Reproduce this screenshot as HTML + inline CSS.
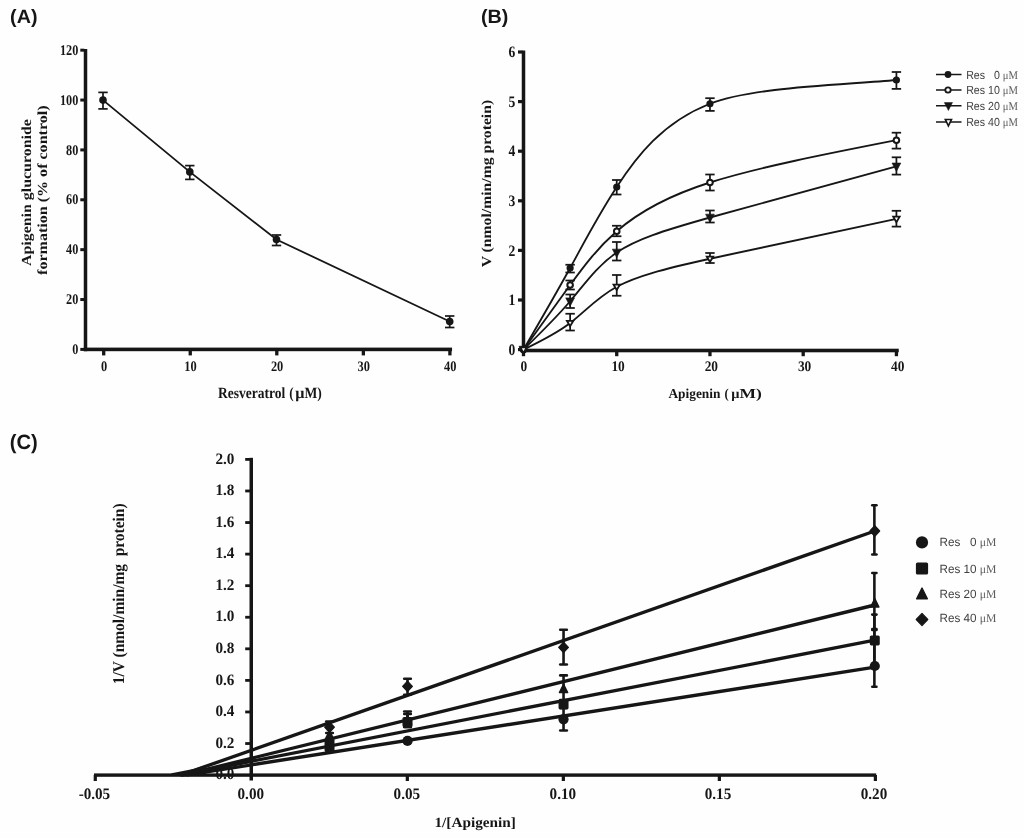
<!DOCTYPE html>
<html><head><meta charset="utf-8"><title>Figure</title>
<style>
html,body{margin:0;padding:0;background:#fefefe;}
body{width:1024px;height:838px;overflow:hidden;font-family:"Liberation Sans",sans-serif;}
svg{display:block;filter:blur(0.45px);}
</style></head><body>
<svg width="1024" height="838" viewBox="0 0 1024 838" text-rendering="geometricPrecision">
<rect width="1024" height="838" fill="#fefefe"/>
<text x="10.10" y="22.70" font-family="'Liberation Sans', sans-serif" font-size="19.4" font-weight="bold" text-anchor="start" fill="#161616" textLength="27.40" lengthAdjust="spacingAndGlyphs">(A)</text>
<text x="481.00" y="22.70" font-family="'Liberation Sans', sans-serif" font-size="19.4" font-weight="bold" text-anchor="start" fill="#161616" textLength="27.40" lengthAdjust="spacingAndGlyphs">(B)</text>
<text x="9.80" y="448.60" font-family="'Liberation Sans', sans-serif" font-size="20.7" font-weight="bold" text-anchor="start" fill="#161616" textLength="28.00" lengthAdjust="spacingAndGlyphs">(C)</text>
<rect x="83.75" y="49.00" width="3.50" height="302.20" fill="#161616"/>
<rect x="83.75" y="347.60" width="368.30" height="3.60" fill="#161616"/>
<rect x="80.30" y="347.90" width="4.00" height="3.00" fill="#161616"/>
<text x="78.30" y="354.10" font-family="'Liberation Serif', serif" font-size="14.8" font-weight="bold" text-anchor="end" fill="#161616" textLength="6.13" lengthAdjust="spacingAndGlyphs">0</text>
<rect x="80.30" y="298.03" width="4.00" height="3.00" fill="#161616"/>
<text x="78.30" y="304.23" font-family="'Liberation Serif', serif" font-size="14.8" font-weight="bold" text-anchor="end" fill="#161616" textLength="12.26" lengthAdjust="spacingAndGlyphs">20</text>
<rect x="80.30" y="248.16" width="4.00" height="3.00" fill="#161616"/>
<text x="78.30" y="254.36" font-family="'Liberation Serif', serif" font-size="14.8" font-weight="bold" text-anchor="end" fill="#161616" textLength="12.26" lengthAdjust="spacingAndGlyphs">40</text>
<rect x="80.30" y="198.29" width="4.00" height="3.00" fill="#161616"/>
<text x="78.30" y="204.49" font-family="'Liberation Serif', serif" font-size="14.8" font-weight="bold" text-anchor="end" fill="#161616" textLength="12.26" lengthAdjust="spacingAndGlyphs">60</text>
<rect x="80.30" y="148.42" width="4.00" height="3.00" fill="#161616"/>
<text x="78.30" y="154.62" font-family="'Liberation Serif', serif" font-size="14.8" font-weight="bold" text-anchor="end" fill="#161616" textLength="12.26" lengthAdjust="spacingAndGlyphs">80</text>
<rect x="80.30" y="98.55" width="4.00" height="3.00" fill="#161616"/>
<text x="78.30" y="104.75" font-family="'Liberation Serif', serif" font-size="14.8" font-weight="bold" text-anchor="end" fill="#161616" textLength="18.39" lengthAdjust="spacingAndGlyphs">100</text>
<rect x="80.30" y="48.68" width="4.00" height="3.00" fill="#161616"/>
<text x="78.30" y="54.88" font-family="'Liberation Serif', serif" font-size="14.8" font-weight="bold" text-anchor="end" fill="#161616" textLength="18.39" lengthAdjust="spacingAndGlyphs">120</text>
<rect x="102.05" y="350.00" width="3.30" height="5.40" fill="#161616"/>
<text x="104.00" y="370.80" font-family="'Liberation Serif', serif" font-size="14.5" font-weight="bold" text-anchor="middle" fill="#161616" textLength="6.20" lengthAdjust="spacingAndGlyphs">0</text>
<rect x="188.60" y="350.00" width="3.30" height="5.40" fill="#161616"/>
<text x="190.55" y="370.80" font-family="'Liberation Serif', serif" font-size="14.5" font-weight="bold" text-anchor="middle" fill="#161616" textLength="12.40" lengthAdjust="spacingAndGlyphs">10</text>
<rect x="275.15" y="350.00" width="3.30" height="5.40" fill="#161616"/>
<text x="277.10" y="370.80" font-family="'Liberation Serif', serif" font-size="14.5" font-weight="bold" text-anchor="middle" fill="#161616" textLength="12.40" lengthAdjust="spacingAndGlyphs">20</text>
<rect x="361.70" y="350.00" width="3.30" height="5.40" fill="#161616"/>
<text x="363.65" y="370.80" font-family="'Liberation Serif', serif" font-size="14.5" font-weight="bold" text-anchor="middle" fill="#161616" textLength="12.40" lengthAdjust="spacingAndGlyphs">30</text>
<rect x="448.25" y="350.00" width="3.30" height="5.40" fill="#161616"/>
<text x="450.20" y="370.80" font-family="'Liberation Serif', serif" font-size="14.5" font-weight="bold" text-anchor="middle" fill="#161616" textLength="12.40" lengthAdjust="spacingAndGlyphs">40</text>
<text x="218.10" y="398.00" font-family="'Liberation Serif', serif" font-size="15.6" font-weight="bold" text-anchor="start" fill="#161616" textLength="67.20" lengthAdjust="spacingAndGlyphs">Resveratrol</text>
<text x="289.30" y="398.00" font-family="'Liberation Serif', serif" font-size="15.6" font-weight="bold" text-anchor="start" fill="#161616" textLength="4.40" lengthAdjust="spacingAndGlyphs">(</text>
<text x="295.20" y="398.00" font-family="'Liberation Serif', serif" font-size="15.6" font-weight="bold" text-anchor="start" fill="#161616" textLength="9.20" lengthAdjust="spacingAndGlyphs">μ</text>
<text x="304.50" y="398.00" font-family="'Liberation Serif', serif" font-size="15.6" font-weight="bold" text-anchor="start" fill="#161616" textLength="17.40" lengthAdjust="spacingAndGlyphs">M)</text>
<text x="30.60" y="192.60" font-family="'Liberation Serif', serif" font-size="13.8" font-weight="bold" text-anchor="middle" fill="#161616" textLength="146.80" lengthAdjust="spacingAndGlyphs" transform="rotate(-90 30.60 192.60)">Apigenin glucuronide</text>
<text x="47.30" y="190.20" font-family="'Liberation Serif', serif" font-size="13.8" font-weight="bold" text-anchor="middle" fill="#161616" textLength="169.50" lengthAdjust="spacingAndGlyphs" transform="rotate(-90 47.30 190.20)">formation (% of control)</text>
<polyline points="103.00,100.10 189.80,171.90 276.50,239.50 449.70,321.50" fill="none" stroke="#161616" stroke-width="1.8"/>
<line x1="103.00" y1="92.40" x2="103.00" y2="108.90" stroke="#161616" stroke-width="1.7" stroke-linecap="butt"/>
<line x1="98.30" y1="92.40" x2="107.70" y2="92.40" stroke="#161616" stroke-width="1.7" stroke-linecap="butt"/>
<line x1="98.30" y1="108.90" x2="107.70" y2="108.90" stroke="#161616" stroke-width="1.7" stroke-linecap="butt"/>
<circle cx="103.00" cy="100.10" r="3.8" fill="#161616"/>
<line x1="189.80" y1="165.60" x2="189.80" y2="179.40" stroke="#161616" stroke-width="1.7" stroke-linecap="butt"/>
<line x1="185.10" y1="165.60" x2="194.50" y2="165.60" stroke="#161616" stroke-width="1.7" stroke-linecap="butt"/>
<line x1="185.10" y1="179.40" x2="194.50" y2="179.40" stroke="#161616" stroke-width="1.7" stroke-linecap="butt"/>
<circle cx="189.80" cy="171.90" r="3.8" fill="#161616"/>
<line x1="276.50" y1="235.00" x2="276.50" y2="245.50" stroke="#161616" stroke-width="1.7" stroke-linecap="butt"/>
<line x1="271.80" y1="235.00" x2="281.20" y2="235.00" stroke="#161616" stroke-width="1.7" stroke-linecap="butt"/>
<line x1="271.80" y1="245.50" x2="281.20" y2="245.50" stroke="#161616" stroke-width="1.7" stroke-linecap="butt"/>
<circle cx="276.50" cy="239.50" r="3.8" fill="#161616"/>
<line x1="449.70" y1="316.00" x2="449.70" y2="327.50" stroke="#161616" stroke-width="1.7" stroke-linecap="butt"/>
<line x1="445.00" y1="316.00" x2="454.40" y2="316.00" stroke="#161616" stroke-width="1.7" stroke-linecap="butt"/>
<line x1="445.00" y1="327.50" x2="454.40" y2="327.50" stroke="#161616" stroke-width="1.7" stroke-linecap="butt"/>
<circle cx="449.70" cy="321.50" r="3.8" fill="#161616"/>
<rect x="521.75" y="50.50" width="3.50" height="301.30" fill="#161616"/>
<rect x="521.75" y="348.70" width="377.00" height="3.60" fill="#161616"/>
<rect x="518.00" y="348.00" width="4.50" height="3.20" fill="#161616"/>
<text x="515.20" y="354.80" font-family="'Liberation Serif', serif" font-size="16.0" font-weight="bold" text-anchor="end" fill="#161616" textLength="6.80" lengthAdjust="spacingAndGlyphs">0</text>
<rect x="518.00" y="298.40" width="4.50" height="3.20" fill="#161616"/>
<text x="515.20" y="305.20" font-family="'Liberation Serif', serif" font-size="16.0" font-weight="bold" text-anchor="end" fill="#161616" textLength="6.80" lengthAdjust="spacingAndGlyphs">1</text>
<rect x="518.00" y="248.80" width="4.50" height="3.20" fill="#161616"/>
<text x="515.20" y="255.60" font-family="'Liberation Serif', serif" font-size="16.0" font-weight="bold" text-anchor="end" fill="#161616" textLength="6.80" lengthAdjust="spacingAndGlyphs">2</text>
<rect x="518.00" y="199.20" width="4.50" height="3.20" fill="#161616"/>
<text x="515.20" y="206.00" font-family="'Liberation Serif', serif" font-size="16.0" font-weight="bold" text-anchor="end" fill="#161616" textLength="6.80" lengthAdjust="spacingAndGlyphs">3</text>
<rect x="518.00" y="149.60" width="4.50" height="3.20" fill="#161616"/>
<text x="515.20" y="156.40" font-family="'Liberation Serif', serif" font-size="16.0" font-weight="bold" text-anchor="end" fill="#161616" textLength="6.80" lengthAdjust="spacingAndGlyphs">4</text>
<rect x="518.00" y="100.00" width="4.50" height="3.20" fill="#161616"/>
<text x="515.20" y="106.80" font-family="'Liberation Serif', serif" font-size="16.0" font-weight="bold" text-anchor="end" fill="#161616" textLength="6.80" lengthAdjust="spacingAndGlyphs">5</text>
<rect x="518.00" y="50.40" width="4.50" height="3.20" fill="#161616"/>
<text x="515.20" y="57.20" font-family="'Liberation Serif', serif" font-size="16.0" font-weight="bold" text-anchor="end" fill="#161616" textLength="6.80" lengthAdjust="spacingAndGlyphs">6</text>
<rect x="521.85" y="351.00" width="3.30" height="5.20" fill="#161616"/>
<text x="523.80" y="371.40" font-family="'Liberation Serif', serif" font-size="14.6" font-weight="bold" text-anchor="middle" fill="#161616" textLength="6.70" lengthAdjust="spacingAndGlyphs">0</text>
<rect x="615.08" y="351.00" width="3.30" height="5.20" fill="#161616"/>
<text x="618.13" y="371.40" font-family="'Liberation Serif', serif" font-size="14.6" font-weight="bold" text-anchor="middle" fill="#161616" textLength="13.40" lengthAdjust="spacingAndGlyphs">10</text>
<rect x="708.31" y="351.00" width="3.30" height="5.20" fill="#161616"/>
<text x="711.36" y="371.40" font-family="'Liberation Serif', serif" font-size="14.6" font-weight="bold" text-anchor="middle" fill="#161616" textLength="13.40" lengthAdjust="spacingAndGlyphs">20</text>
<rect x="801.54" y="351.00" width="3.30" height="5.20" fill="#161616"/>
<text x="804.59" y="371.40" font-family="'Liberation Serif', serif" font-size="14.6" font-weight="bold" text-anchor="middle" fill="#161616" textLength="13.40" lengthAdjust="spacingAndGlyphs">30</text>
<rect x="894.77" y="351.00" width="3.30" height="5.20" fill="#161616"/>
<text x="897.82" y="371.40" font-family="'Liberation Serif', serif" font-size="14.6" font-weight="bold" text-anchor="middle" fill="#161616" textLength="13.40" lengthAdjust="spacingAndGlyphs">40</text>
<text x="668.40" y="398.40" font-family="'Liberation Serif', serif" font-size="13.8" font-weight="bold" text-anchor="start" fill="#161616" textLength="52.00" lengthAdjust="spacingAndGlyphs">Apigenin</text>
<text x="724.60" y="398.40" font-family="'Liberation Serif', serif" font-size="13.8" font-weight="bold" text-anchor="start" fill="#161616" textLength="4.20" lengthAdjust="spacingAndGlyphs">(</text>
<text x="731.20" y="398.40" font-family="'Liberation Serif', serif" font-size="13.8" font-weight="bold" text-anchor="start" fill="#161616" textLength="8.20" lengthAdjust="spacingAndGlyphs">μ</text>
<text x="739.60" y="398.40" font-family="'Liberation Serif', serif" font-size="13.8" font-weight="bold" text-anchor="start" fill="#161616" textLength="22.30" lengthAdjust="spacingAndGlyphs">M)</text>
<text x="490.80" y="183.60" font-family="'Liberation Serif', serif" font-size="13.8" font-weight="bold" text-anchor="middle" fill="#161616" textLength="167.50" lengthAdjust="spacingAndGlyphs" transform="rotate(-90 490.80 183.60)">V (nmol/min/mg protein)</text>
<path d="M523.50,349.60 C539.59,321.94 555.69,294.28 570.12,268.00 C584.54,241.72 597.31,216.83 616.73,187.00 C636.15,157.17 662.24,122.41 709.96,103.75 C752.65,86.98 841.87,85.08 896.42,80.00" fill="none" stroke="#161616" stroke-width="1.85"/>
<path d="M523.50,349.60 C539.59,327.18 555.69,304.76 570.12,285.00 C584.54,265.24 597.31,248.15 616.73,231.25 C636.15,214.35 662.24,197.64 709.96,182.50 C757.68,167.36 827.05,153.78 896.42,140.20" fill="none" stroke="#161616" stroke-width="1.85"/>
<path d="M523.50,349.60 C539.59,333.94 555.69,318.28 570.12,301.25 C584.54,284.22 597.31,265.80 616.73,252.50 C636.15,239.20 662.24,231.00 709.96,217.50 C757.68,204.00 827.05,185.20 896.42,166.40" fill="none" stroke="#161616" stroke-width="1.85"/>
<path d="M523.50,349.60 C539.59,341.86 555.69,334.12 570.12,323.00 C584.54,311.88 597.31,297.37 616.73,286.75 C636.15,276.13 662.24,269.41 709.96,258.75 C757.68,248.09 827.05,233.50 896.42,218.90" fill="none" stroke="#161616" stroke-width="1.85"/>
<circle cx="523.50" cy="349.60" r="3.6" fill="#161616"/>
<line x1="570.12" y1="264.75" x2="570.12" y2="272.50" stroke="#161616" stroke-width="1.75" stroke-linecap="butt"/>
<line x1="565.41" y1="264.75" x2="574.82" y2="264.75" stroke="#161616" stroke-width="1.75" stroke-linecap="butt"/>
<line x1="565.41" y1="272.50" x2="574.82" y2="272.50" stroke="#161616" stroke-width="1.75" stroke-linecap="butt"/>
<circle cx="570.12" cy="268.00" r="3.6" fill="#161616"/>
<line x1="616.73" y1="180.00" x2="616.73" y2="194.50" stroke="#161616" stroke-width="1.75" stroke-linecap="butt"/>
<line x1="612.03" y1="180.00" x2="621.43" y2="180.00" stroke="#161616" stroke-width="1.75" stroke-linecap="butt"/>
<line x1="612.03" y1="194.50" x2="621.43" y2="194.50" stroke="#161616" stroke-width="1.75" stroke-linecap="butt"/>
<circle cx="616.73" cy="187.00" r="3.6" fill="#161616"/>
<line x1="709.96" y1="98.20" x2="709.96" y2="110.90" stroke="#161616" stroke-width="1.75" stroke-linecap="butt"/>
<line x1="705.26" y1="98.20" x2="714.66" y2="98.20" stroke="#161616" stroke-width="1.75" stroke-linecap="butt"/>
<line x1="705.26" y1="110.90" x2="714.66" y2="110.90" stroke="#161616" stroke-width="1.75" stroke-linecap="butt"/>
<circle cx="709.96" cy="103.75" r="3.6" fill="#161616"/>
<line x1="896.42" y1="72.00" x2="896.42" y2="88.90" stroke="#161616" stroke-width="1.75" stroke-linecap="butt"/>
<line x1="891.72" y1="72.00" x2="901.12" y2="72.00" stroke="#161616" stroke-width="1.75" stroke-linecap="butt"/>
<line x1="891.72" y1="88.90" x2="901.12" y2="88.90" stroke="#161616" stroke-width="1.75" stroke-linecap="butt"/>
<circle cx="896.42" cy="80.00" r="3.6" fill="#161616"/>
<circle cx="523.50" cy="349.60" r="2.8" fill="#fff" stroke="#161616" stroke-width="2.0"/>
<line x1="570.12" y1="280.50" x2="570.12" y2="289.50" stroke="#161616" stroke-width="1.75" stroke-linecap="butt"/>
<line x1="565.41" y1="280.50" x2="574.82" y2="280.50" stroke="#161616" stroke-width="1.75" stroke-linecap="butt"/>
<line x1="565.41" y1="289.50" x2="574.82" y2="289.50" stroke="#161616" stroke-width="1.75" stroke-linecap="butt"/>
<circle cx="570.12" cy="285.00" r="2.8" fill="#fff" stroke="#161616" stroke-width="2.0"/>
<line x1="616.73" y1="225.75" x2="616.73" y2="236.25" stroke="#161616" stroke-width="1.75" stroke-linecap="butt"/>
<line x1="612.03" y1="225.75" x2="621.43" y2="225.75" stroke="#161616" stroke-width="1.75" stroke-linecap="butt"/>
<line x1="612.03" y1="236.25" x2="621.43" y2="236.25" stroke="#161616" stroke-width="1.75" stroke-linecap="butt"/>
<circle cx="616.73" cy="231.25" r="2.8" fill="#fff" stroke="#161616" stroke-width="2.0"/>
<line x1="709.96" y1="174.50" x2="709.96" y2="190.50" stroke="#161616" stroke-width="1.75" stroke-linecap="butt"/>
<line x1="705.26" y1="174.50" x2="714.66" y2="174.50" stroke="#161616" stroke-width="1.75" stroke-linecap="butt"/>
<line x1="705.26" y1="190.50" x2="714.66" y2="190.50" stroke="#161616" stroke-width="1.75" stroke-linecap="butt"/>
<circle cx="709.96" cy="182.50" r="2.8" fill="#fff" stroke="#161616" stroke-width="2.0"/>
<line x1="896.42" y1="132.70" x2="896.42" y2="148.60" stroke="#161616" stroke-width="1.75" stroke-linecap="butt"/>
<line x1="891.72" y1="132.70" x2="901.12" y2="132.70" stroke="#161616" stroke-width="1.75" stroke-linecap="butt"/>
<line x1="891.72" y1="148.60" x2="901.12" y2="148.60" stroke="#161616" stroke-width="1.75" stroke-linecap="butt"/>
<circle cx="896.42" cy="140.20" r="2.8" fill="#fff" stroke="#161616" stroke-width="2.0"/>
<polygon points="519.10,346.24 527.90,346.24 523.50,354.64" fill="#161616" stroke="#161616" stroke-width="0.6" stroke-linejoin="miter"/>
<line x1="570.12" y1="294.50" x2="570.12" y2="308.00" stroke="#161616" stroke-width="1.75" stroke-linecap="butt"/>
<line x1="565.41" y1="294.50" x2="574.82" y2="294.50" stroke="#161616" stroke-width="1.75" stroke-linecap="butt"/>
<line x1="565.41" y1="308.00" x2="574.82" y2="308.00" stroke="#161616" stroke-width="1.75" stroke-linecap="butt"/>
<polygon points="565.72,297.89 574.51,297.89 570.12,306.29" fill="#161616" stroke="#161616" stroke-width="0.6" stroke-linejoin="miter"/>
<line x1="616.73" y1="242.00" x2="616.73" y2="260.50" stroke="#161616" stroke-width="1.75" stroke-linecap="butt"/>
<line x1="612.03" y1="242.00" x2="621.43" y2="242.00" stroke="#161616" stroke-width="1.75" stroke-linecap="butt"/>
<line x1="612.03" y1="260.50" x2="621.43" y2="260.50" stroke="#161616" stroke-width="1.75" stroke-linecap="butt"/>
<polygon points="612.33,249.14 621.13,249.14 616.73,257.54" fill="#161616" stroke="#161616" stroke-width="0.6" stroke-linejoin="miter"/>
<line x1="709.96" y1="210.50" x2="709.96" y2="222.50" stroke="#161616" stroke-width="1.75" stroke-linecap="butt"/>
<line x1="705.26" y1="210.50" x2="714.66" y2="210.50" stroke="#161616" stroke-width="1.75" stroke-linecap="butt"/>
<line x1="705.26" y1="222.50" x2="714.66" y2="222.50" stroke="#161616" stroke-width="1.75" stroke-linecap="butt"/>
<polygon points="705.56,214.14 714.36,214.14 709.96,222.54" fill="#161616" stroke="#161616" stroke-width="0.6" stroke-linejoin="miter"/>
<line x1="896.42" y1="157.30" x2="896.42" y2="174.60" stroke="#161616" stroke-width="1.75" stroke-linecap="butt"/>
<line x1="891.72" y1="157.30" x2="901.12" y2="157.30" stroke="#161616" stroke-width="1.75" stroke-linecap="butt"/>
<line x1="891.72" y1="174.60" x2="901.12" y2="174.60" stroke="#161616" stroke-width="1.75" stroke-linecap="butt"/>
<polygon points="892.02,163.04 900.82,163.04 896.42,171.44" fill="#161616" stroke="#161616" stroke-width="0.6" stroke-linejoin="miter"/>
<polygon points="520.30,347.42 526.70,347.42 523.50,352.86" fill="#fff" stroke="#161616" stroke-width="1.8" stroke-linejoin="miter"/>
<line x1="570.12" y1="313.75" x2="570.12" y2="330.50" stroke="#161616" stroke-width="1.75" stroke-linecap="butt"/>
<line x1="565.41" y1="313.75" x2="574.82" y2="313.75" stroke="#161616" stroke-width="1.75" stroke-linecap="butt"/>
<line x1="565.41" y1="330.50" x2="574.82" y2="330.50" stroke="#161616" stroke-width="1.75" stroke-linecap="butt"/>
<polygon points="566.91,320.82 573.32,320.82 570.12,326.26" fill="#fff" stroke="#161616" stroke-width="1.8" stroke-linejoin="miter"/>
<line x1="616.73" y1="275.00" x2="616.73" y2="295.75" stroke="#161616" stroke-width="1.75" stroke-linecap="butt"/>
<line x1="612.03" y1="275.00" x2="621.43" y2="275.00" stroke="#161616" stroke-width="1.75" stroke-linecap="butt"/>
<line x1="612.03" y1="295.75" x2="621.43" y2="295.75" stroke="#161616" stroke-width="1.75" stroke-linecap="butt"/>
<polygon points="613.53,284.57 619.93,284.57 616.73,290.01" fill="#fff" stroke="#161616" stroke-width="1.8" stroke-linejoin="miter"/>
<line x1="709.96" y1="253.00" x2="709.96" y2="263.00" stroke="#161616" stroke-width="1.75" stroke-linecap="butt"/>
<line x1="705.26" y1="253.00" x2="714.66" y2="253.00" stroke="#161616" stroke-width="1.75" stroke-linecap="butt"/>
<line x1="705.26" y1="263.00" x2="714.66" y2="263.00" stroke="#161616" stroke-width="1.75" stroke-linecap="butt"/>
<polygon points="706.76,256.57 713.16,256.57 709.96,262.01" fill="#fff" stroke="#161616" stroke-width="1.8" stroke-linejoin="miter"/>
<line x1="896.42" y1="210.80" x2="896.42" y2="226.60" stroke="#161616" stroke-width="1.75" stroke-linecap="butt"/>
<line x1="891.72" y1="210.80" x2="901.12" y2="210.80" stroke="#161616" stroke-width="1.75" stroke-linecap="butt"/>
<line x1="891.72" y1="226.60" x2="901.12" y2="226.60" stroke="#161616" stroke-width="1.75" stroke-linecap="butt"/>
<polygon points="893.22,216.72 899.62,216.72 896.42,222.16" fill="#fff" stroke="#161616" stroke-width="1.8" stroke-linejoin="miter"/>
<line x1="936.00" y1="74.50" x2="961.50" y2="74.50" stroke="#161616" stroke-width="1.5" stroke-linecap="butt"/>
<circle cx="948.00" cy="74.50" r="3.4" fill="#161616"/>
<text x="966.2" y="78.70" font-family="'Liberation Sans', sans-serif" font-size="11.7" fill="#404040" textLength="51.8" lengthAdjust="spacingAndGlyphs" xml:space="preserve">Res&#160;&#160;&#160;0 <tspan font-family="'Liberation Serif', serif" fill="#5c5c5c">μM</tspan></text>
<line x1="936.00" y1="90.00" x2="961.50" y2="90.00" stroke="#161616" stroke-width="1.5" stroke-linecap="butt"/>
<circle cx="948.00" cy="90.00" r="2.7" fill="#fff" stroke="#161616" stroke-width="1.8"/>
<text x="966.2" y="94.20" font-family="'Liberation Sans', sans-serif" font-size="11.7" fill="#404040" textLength="51.8" lengthAdjust="spacingAndGlyphs" xml:space="preserve">Res 10 <tspan font-family="'Liberation Serif', serif" fill="#5c5c5c">μM</tspan></text>
<line x1="936.00" y1="105.75" x2="961.50" y2="105.75" stroke="#161616" stroke-width="1.5" stroke-linecap="butt"/>
<polygon points="944.30,102.55 952.50,102.55 948.40,110.55" fill="#161616" stroke="#161616" stroke-width="0.5" stroke-linejoin="miter"/>
<text x="966.2" y="109.95" font-family="'Liberation Sans', sans-serif" font-size="11.7" fill="#404040" textLength="51.8" lengthAdjust="spacingAndGlyphs" xml:space="preserve">Res 20 <tspan font-family="'Liberation Serif', serif" fill="#5c5c5c">μM</tspan></text>
<line x1="936.00" y1="122.00" x2="961.50" y2="122.00" stroke="#161616" stroke-width="1.5" stroke-linecap="butt"/>
<polygon points="945.30,119.44 951.50,119.44 948.40,125.84" fill="#fff" stroke="#161616" stroke-width="1.6" stroke-linejoin="miter"/>
<text x="966.2" y="126.20" font-family="'Liberation Sans', sans-serif" font-size="11.7" fill="#404040" textLength="51.8" lengthAdjust="spacingAndGlyphs" xml:space="preserve">Res 40 <tspan font-family="'Liberation Serif', serif" fill="#5c5c5c">μM</tspan></text>
<text x="234.40" y="779.30" font-family="'Liberation Serif', serif" font-size="15.9" font-weight="bold" text-anchor="end" fill="#161616" textLength="19.00" lengthAdjust="spacingAndGlyphs">0.0</text>
<text x="234.40" y="747.73" font-family="'Liberation Serif', serif" font-size="15.9" font-weight="bold" text-anchor="end" fill="#161616" textLength="19.00" lengthAdjust="spacingAndGlyphs">0.2</text>
<text x="234.40" y="716.16" font-family="'Liberation Serif', serif" font-size="15.9" font-weight="bold" text-anchor="end" fill="#161616" textLength="19.00" lengthAdjust="spacingAndGlyphs">0.4</text>
<text x="234.40" y="684.59" font-family="'Liberation Serif', serif" font-size="15.9" font-weight="bold" text-anchor="end" fill="#161616" textLength="19.00" lengthAdjust="spacingAndGlyphs">0.6</text>
<text x="234.40" y="653.02" font-family="'Liberation Serif', serif" font-size="15.9" font-weight="bold" text-anchor="end" fill="#161616" textLength="19.00" lengthAdjust="spacingAndGlyphs">0.8</text>
<text x="234.40" y="621.45" font-family="'Liberation Serif', serif" font-size="15.9" font-weight="bold" text-anchor="end" fill="#161616" textLength="19.00" lengthAdjust="spacingAndGlyphs">1.0</text>
<text x="234.40" y="589.88" font-family="'Liberation Serif', serif" font-size="15.9" font-weight="bold" text-anchor="end" fill="#161616" textLength="19.00" lengthAdjust="spacingAndGlyphs">1.2</text>
<text x="234.40" y="558.31" font-family="'Liberation Serif', serif" font-size="15.9" font-weight="bold" text-anchor="end" fill="#161616" textLength="19.00" lengthAdjust="spacingAndGlyphs">1.4</text>
<text x="234.40" y="526.74" font-family="'Liberation Serif', serif" font-size="15.9" font-weight="bold" text-anchor="end" fill="#161616" textLength="19.00" lengthAdjust="spacingAndGlyphs">1.6</text>
<text x="234.40" y="495.17" font-family="'Liberation Serif', serif" font-size="15.9" font-weight="bold" text-anchor="end" fill="#161616" textLength="19.00" lengthAdjust="spacingAndGlyphs">1.8</text>
<text x="234.40" y="463.60" font-family="'Liberation Serif', serif" font-size="15.9" font-weight="bold" text-anchor="end" fill="#161616" textLength="19.00" lengthAdjust="spacingAndGlyphs">2.0</text>
<rect x="249.50" y="457.80" width="3.50" height="322.70" fill="#161616"/>
<rect x="94.00" y="773.40" width="782.20" height="3.40" fill="#161616"/>
<rect x="245.20" y="742.13" width="5.00" height="2.80" fill="#161616"/>
<rect x="245.20" y="710.56" width="5.00" height="2.80" fill="#161616"/>
<rect x="245.20" y="678.99" width="5.00" height="2.80" fill="#161616"/>
<rect x="245.20" y="647.42" width="5.00" height="2.80" fill="#161616"/>
<rect x="245.20" y="615.85" width="5.00" height="2.80" fill="#161616"/>
<rect x="245.20" y="584.28" width="5.00" height="2.80" fill="#161616"/>
<rect x="245.20" y="552.71" width="5.00" height="2.80" fill="#161616"/>
<rect x="245.20" y="521.14" width="5.00" height="2.80" fill="#161616"/>
<rect x="245.20" y="489.57" width="5.00" height="2.80" fill="#161616"/>
<rect x="245.20" y="458.00" width="5.00" height="2.80" fill="#161616"/>
<rect x="93.68" y="775.00" width="3.20" height="6.00" fill="#161616"/>
<rect x="405.72" y="775.00" width="3.20" height="6.00" fill="#161616"/>
<rect x="561.74" y="775.00" width="3.20" height="6.00" fill="#161616"/>
<rect x="717.76" y="775.00" width="3.20" height="6.00" fill="#161616"/>
<rect x="873.78" y="775.00" width="3.20" height="6.00" fill="#161616"/>
<text x="94.38" y="799.40" font-family="'Liberation Serif', serif" font-size="16.0" font-weight="bold" text-anchor="middle" fill="#161616" textLength="31.50" lengthAdjust="spacingAndGlyphs">-0.05</text>
<text x="250.80" y="799.40" font-family="'Liberation Serif', serif" font-size="16.0" font-weight="bold" text-anchor="middle" fill="#161616" textLength="26.50" lengthAdjust="spacingAndGlyphs">0.00</text>
<text x="406.82" y="799.40" font-family="'Liberation Serif', serif" font-size="16.0" font-weight="bold" text-anchor="middle" fill="#161616" textLength="26.50" lengthAdjust="spacingAndGlyphs">0.05</text>
<text x="562.84" y="799.40" font-family="'Liberation Serif', serif" font-size="16.0" font-weight="bold" text-anchor="middle" fill="#161616" textLength="26.50" lengthAdjust="spacingAndGlyphs">0.10</text>
<text x="717.96" y="799.40" font-family="'Liberation Serif', serif" font-size="16.0" font-weight="bold" text-anchor="middle" fill="#161616" textLength="26.50" lengthAdjust="spacingAndGlyphs">0.15</text>
<text x="873.98" y="799.40" font-family="'Liberation Serif', serif" font-size="16.0" font-weight="bold" text-anchor="middle" fill="#161616" textLength="26.50" lengthAdjust="spacingAndGlyphs">0.20</text>
<text x="475.20" y="827.40" font-family="'Liberation Serif', serif" font-size="14.2" font-weight="bold" text-anchor="middle" fill="#161616" textLength="81.50" lengthAdjust="spacingAndGlyphs">1/[Apigenin]</text>
<text x="124.00" y="593.80" font-family="'Liberation Serif', serif" font-size="16.4" font-weight="bold" text-anchor="middle" fill="#161616" textLength="180.80" lengthAdjust="spacingAndGlyphs" transform="rotate(-90 124.00 593.80)">1/V (nmol/min/mg&#160; protein)</text>
<line x1="180.79" y1="775.10" x2="874.80" y2="531.00" stroke="#161616" stroke-width="3.35" stroke-linecap="butt"/>
<line x1="182.97" y1="775.10" x2="874.80" y2="605.00" stroke="#161616" stroke-width="3.35" stroke-linecap="butt"/>
<line x1="180.25" y1="775.10" x2="874.80" y2="640.20" stroke="#161616" stroke-width="3.35" stroke-linecap="butt"/>
<line x1="186.21" y1="775.10" x2="874.80" y2="667.20" stroke="#161616" stroke-width="3.35" stroke-linecap="butt"/>
<polygon points="170.5,775.5 171.5,773.2 194.5,768.8 206,765 206,775.5" fill="#161616"/>
<line x1="329.51" y1="721.60" x2="329.51" y2="733.00" stroke="#161616" stroke-width="2.6" stroke-linecap="butt"/>
<line x1="326.21" y1="721.60" x2="332.81" y2="721.60" stroke="#161616" stroke-width="2.6" stroke-linecap="round"/>
<line x1="326.21" y1="733.00" x2="332.81" y2="733.00" stroke="#161616" stroke-width="2.6" stroke-linecap="round"/>
<line x1="407.52" y1="678.80" x2="407.52" y2="694.80" stroke="#161616" stroke-width="2.6" stroke-linecap="butt"/>
<line x1="404.22" y1="678.80" x2="410.82" y2="678.80" stroke="#161616" stroke-width="2.6" stroke-linecap="round"/>
<line x1="404.22" y1="694.80" x2="410.82" y2="694.80" stroke="#161616" stroke-width="2.6" stroke-linecap="round"/>
<line x1="563.54" y1="629.70" x2="563.54" y2="664.50" stroke="#161616" stroke-width="2.6" stroke-linecap="butt"/>
<line x1="560.24" y1="629.70" x2="566.84" y2="629.70" stroke="#161616" stroke-width="2.6" stroke-linecap="round"/>
<line x1="560.24" y1="664.50" x2="566.84" y2="664.50" stroke="#161616" stroke-width="2.6" stroke-linecap="round"/>
<line x1="874.38" y1="505.20" x2="874.38" y2="554.50" stroke="#161616" stroke-width="2.6" stroke-linecap="butt"/>
<line x1="872.28" y1="505.20" x2="876.48" y2="505.20" stroke="#161616" stroke-width="2.6" stroke-linecap="round"/>
<line x1="872.28" y1="554.50" x2="876.48" y2="554.50" stroke="#161616" stroke-width="2.6" stroke-linecap="round"/>
<line x1="407.52" y1="711.50" x2="407.52" y2="727.00" stroke="#161616" stroke-width="2.6" stroke-linecap="butt"/>
<line x1="404.22" y1="711.50" x2="410.82" y2="711.50" stroke="#161616" stroke-width="2.6" stroke-linecap="round"/>
<line x1="404.22" y1="727.00" x2="410.82" y2="727.00" stroke="#161616" stroke-width="2.6" stroke-linecap="round"/>
<line x1="563.54" y1="675.40" x2="563.54" y2="700.00" stroke="#161616" stroke-width="2.6" stroke-linecap="butt"/>
<line x1="560.24" y1="675.40" x2="566.84" y2="675.40" stroke="#161616" stroke-width="2.6" stroke-linecap="round"/>
<line x1="560.24" y1="700.00" x2="566.84" y2="700.00" stroke="#161616" stroke-width="2.6" stroke-linecap="round"/>
<line x1="874.38" y1="573.00" x2="874.38" y2="630.00" stroke="#161616" stroke-width="2.6" stroke-linecap="butt"/>
<line x1="872.28" y1="573.00" x2="876.48" y2="573.00" stroke="#161616" stroke-width="2.6" stroke-linecap="round"/>
<line x1="872.28" y1="630.00" x2="876.48" y2="630.00" stroke="#161616" stroke-width="2.6" stroke-linecap="round"/>
<line x1="407.52" y1="714.00" x2="407.52" y2="727.00" stroke="#161616" stroke-width="2.6" stroke-linecap="butt"/>
<line x1="404.22" y1="714.00" x2="410.82" y2="714.00" stroke="#161616" stroke-width="2.6" stroke-linecap="round"/>
<line x1="404.22" y1="727.00" x2="410.82" y2="727.00" stroke="#161616" stroke-width="2.6" stroke-linecap="round"/>
<line x1="874.38" y1="614.60" x2="874.38" y2="666.00" stroke="#161616" stroke-width="2.6" stroke-linecap="butt"/>
<line x1="872.28" y1="614.60" x2="876.48" y2="614.60" stroke="#161616" stroke-width="2.6" stroke-linecap="round"/>
<line x1="872.28" y1="666.00" x2="876.48" y2="666.00" stroke="#161616" stroke-width="2.6" stroke-linecap="round"/>
<line x1="563.54" y1="708.00" x2="563.54" y2="730.50" stroke="#161616" stroke-width="2.6" stroke-linecap="butt"/>
<line x1="560.24" y1="708.00" x2="566.84" y2="708.00" stroke="#161616" stroke-width="2.6" stroke-linecap="round"/>
<line x1="560.24" y1="730.50" x2="566.84" y2="730.50" stroke="#161616" stroke-width="2.6" stroke-linecap="round"/>
<line x1="874.38" y1="629.00" x2="874.38" y2="686.80" stroke="#161616" stroke-width="2.6" stroke-linecap="butt"/>
<line x1="872.28" y1="629.00" x2="876.48" y2="629.00" stroke="#161616" stroke-width="2.6" stroke-linecap="round"/>
<line x1="872.28" y1="686.80" x2="876.48" y2="686.80" stroke="#161616" stroke-width="2.6" stroke-linecap="round"/>
<polygon points="324.63,727.20 329.51,721.92 334.39,727.20 329.51,732.48" fill="#161616" stroke="#161616" stroke-width="1.2" stroke-linejoin="round"/>
<polygon points="402.64,686.40 407.52,681.12 412.40,686.40 407.52,691.68" fill="#161616" stroke="#161616" stroke-width="1.2" stroke-linejoin="round"/>
<polygon points="558.66,647.40 563.54,642.12 568.42,647.40 563.54,652.68" fill="#161616" stroke="#161616" stroke-width="1.2" stroke-linejoin="round"/>
<polygon points="869.90,531.00 874.78,525.72 879.66,531.00 874.78,536.28" fill="#161616" stroke="#161616" stroke-width="1.2" stroke-linejoin="round"/>
<polygon points="325.37,739.02 333.65,739.02 329.51,730.62" fill="#161616" stroke="#161616" stroke-width="1.4" stroke-linejoin="round"/>
<polygon points="403.38,724.02 411.66,724.02 407.52,715.62" fill="#161616" stroke="#161616" stroke-width="1.4" stroke-linejoin="round"/>
<polygon points="559.40,692.62 567.68,692.62 563.54,684.23" fill="#161616" stroke="#161616" stroke-width="1.4" stroke-linejoin="round"/>
<polygon points="870.64,607.02 878.92,607.02 874.78,598.62" fill="#161616" stroke="#161616" stroke-width="1.4" stroke-linejoin="round"/>
<rect x="324.51" y="738.50" width="10" height="10" fill="#161616" rx="1.6"/>
<rect x="402.52" y="717.00" width="10" height="10" fill="#161616" rx="1.6"/>
<rect x="558.54" y="699.40" width="10" height="10" fill="#161616" rx="1.6"/>
<rect x="869.78" y="635.40" width="10" height="10" fill="#161616" rx="1.6"/>
<circle cx="329.51" cy="749.00" r="5.1" fill="#161616"/>
<circle cx="407.52" cy="740.90" r="5.1" fill="#161616"/>
<circle cx="563.54" cy="719.30" r="5.1" fill="#161616"/>
<circle cx="874.78" cy="666.00" r="5.1" fill="#161616"/>
<circle cx="922.00" cy="542.40" r="6.1" fill="#161616"/>
<text x="939.5" y="546.30" font-family="'Liberation Sans', sans-serif" font-size="12.0" fill="#404040" textLength="56.9" lengthAdjust="spacingAndGlyphs" xml:space="preserve">Res&#160;&#160;&#160;0 <tspan font-family="'Liberation Serif', serif" fill="#5c5c5c">μM</tspan></text>
<rect x="915.90" y="562.40" width="12.2" height="12.2" fill="#161616" rx="1.6"/>
<text x="939.5" y="573.40" font-family="'Liberation Sans', sans-serif" font-size="12.0" fill="#404040" textLength="56.9" lengthAdjust="spacingAndGlyphs" xml:space="preserve">Res 10 <tspan font-family="'Liberation Serif', serif" fill="#5c5c5c">μM</tspan></text>
<polygon points="916.66,598.76 927.34,598.76 922.00,588.06" fill="#161616" stroke="#161616" stroke-width="1.4" stroke-linejoin="round"/>
<text x="939.5" y="597.50" font-family="'Liberation Sans', sans-serif" font-size="12.0" fill="#404040" textLength="56.9" lengthAdjust="spacingAndGlyphs" xml:space="preserve">Res 20 <tspan font-family="'Liberation Serif', serif" fill="#5c5c5c">μM</tspan></text>
<polygon points="916.22,619.50 922.00,613.42 927.78,619.50 922.00,625.58" fill="#161616" stroke="#161616" stroke-width="1.2" stroke-linejoin="round"/>
<text x="939.5" y="621.50" font-family="'Liberation Sans', sans-serif" font-size="12.0" fill="#404040" textLength="56.9" lengthAdjust="spacingAndGlyphs" xml:space="preserve">Res 40 <tspan font-family="'Liberation Serif', serif" fill="#5c5c5c">μM</tspan></text>
</svg>
</body></html>
